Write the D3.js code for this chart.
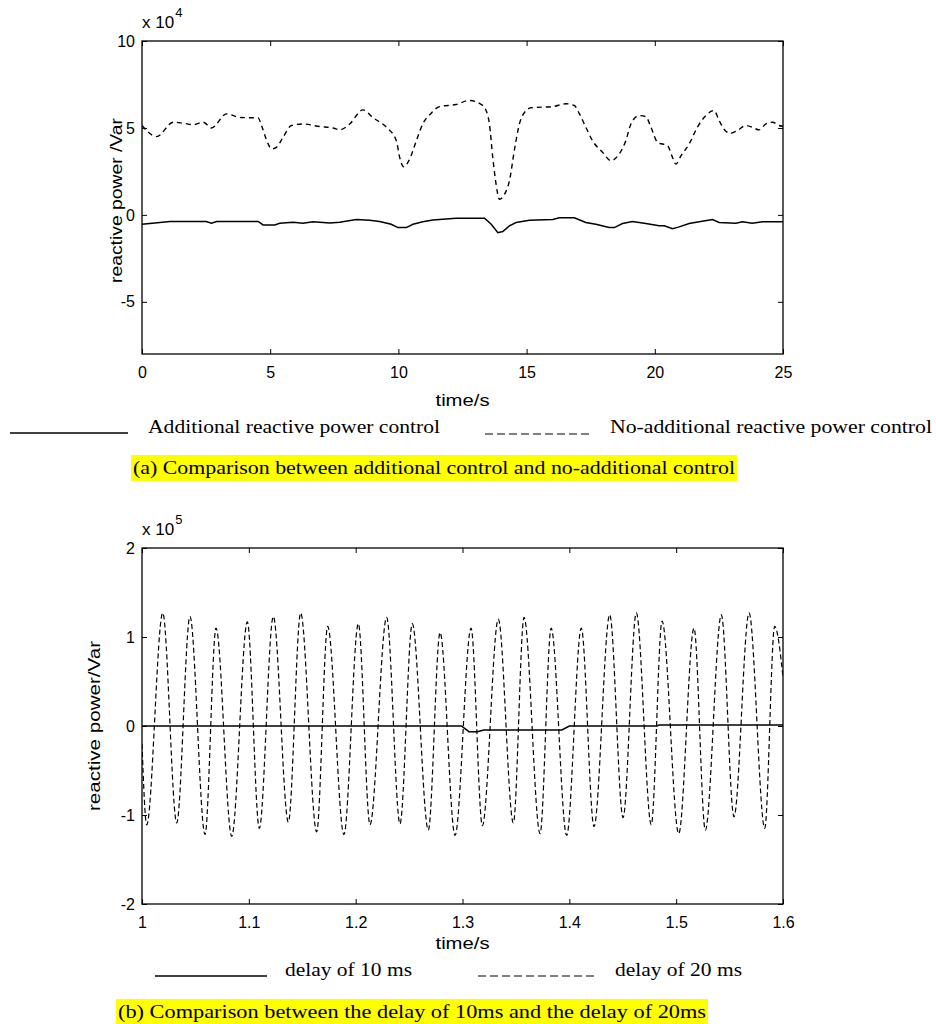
<!DOCTYPE html>
<html>
<head>
<meta charset="utf-8">
<script src="https://cdn.jsdelivr.net/npm/d3@7"></script>
<style>
  html, body { margin: 0; padding: 0; background: #fff; }
  svg { display: block; }
  .tick text { font-family: "Liberation Sans", Arial, sans-serif; font-size: 16px; fill: #000; }
  .tick line { stroke: #000; stroke-width: 1; }
  .serif { font-family: "Liberation Serif", "Times New Roman", serif; fill: #000; }
  .sans { font-family: "Liberation Sans", Arial, sans-serif; fill: #000; }
</style>
</head>
<body>
<svg id="chart" width="936" height="1024"></svg>
<script>
// ---------------- DATA ----------------
// Panel (a): time in s, reactive power in units of 1e4 Var
const aTicksX = [0, 5, 10, 15, 20, 25];
const aTicksY = [-5, 0, 5, 10];
const aNoAddTime = [0, 0.25, 0.57, 1.22, 1.61, 2.0, 2.39, 2.71, 3.3, 3.82, 4.53, 4.66, 4.92, 5.05, 5.24, 5.5, 5.83, 6.28, 6.93, 7.45, 7.71, 8.1, 8.62, 9.0, 9.53, 9.92, 10.05, 10.2, 10.44, 10.7, 10.95, 11.28, 11.6, 12.25, 12.77, 13.23, 13.42, 13.55, 13.68, 13.81, 13.94, 14.14, 14.33, 14.52, 14.72, 14.98, 15.17, 16.02, 16.54, 16.86, 17.06, 17.31, 17.57, 17.96, 18.29, 18.61, 18.87, 19.07, 19.39, 19.65, 19.85, 20.11, 20.5, 20.69, 20.82, 21.02, 21.34, 21.66, 21.99, 22.31, 22.51, 22.77, 22.96, 23.22, 23.55, 23.8, 24.07, 24.33, 24.59, 24.84, 25];
const aNoAddValue = [5.14, 4.75, 4.5, 5.33, 5.27, 5.19, 5.33, 5.0, 5.81, 5.6, 5.58, 5.14, 4.08, 3.79, 3.88, 4.46, 5.14, 5.23, 5.08, 5.0, 4.89, 5.23, 6.04, 5.6, 5.04, 4.27, 3.31, 2.77, 3.21, 4.27, 5.23, 5.85, 6.23, 6.35, 6.58, 6.35, 6.0, 5.23, 3.31, 1.77, 0.9, 1.19, 1.96, 3.69, 5.23, 6.0, 6.16, 6.23, 6.39, 6.29, 5.81, 5.04, 4.27, 3.6, 3.12, 3.5, 4.27, 5.23, 5.71, 5.65, 5.04, 4.17, 3.98, 3.31, 2.92, 3.4, 4.08, 5.04, 5.71, 6.0, 5.42, 4.81, 4.69, 4.85, 5.14, 5.04, 4.89, 5.23, 5.33, 5.14, 5.1];
const aAddTime = [0, 0.3, 0.7, 1.09, 2.5, 2.71, 2.91, 4.53, 4.72, 5.18, 5.37, 5.89, 6.28, 6.67, 7.32, 7.71, 8.36, 8.88, 9.27, 9.72, 9.98, 10.31, 10.57, 10.95, 11.34, 12.25, 13.36, 13.62, 13.88, 14.07, 14.33, 14.59, 15.11, 16.02, 16.28, 16.86, 17.31, 17.7, 18.22, 18.42, 18.74, 19.13, 19.65, 20.17, 20.37, 20.69, 20.95, 21.34, 21.73, 22.25, 22.51, 23.16, 23.42, 23.8, 24.2, 24.84, 25];
const aAddValue = [-0.54, -0.5, -0.44, -0.38, -0.38, -0.48, -0.38, -0.38, -0.58, -0.58, -0.48, -0.42, -0.48, -0.4, -0.46, -0.42, -0.27, -0.31, -0.38, -0.54, -0.73, -0.73, -0.54, -0.4, -0.29, -0.19, -0.19, -0.54, -1.02, -0.96, -0.63, -0.44, -0.31, -0.27, -0.17, -0.17, -0.44, -0.54, -0.73, -0.73, -0.5, -0.38, -0.5, -0.63, -0.63, -0.79, -0.69, -0.5, -0.4, -0.27, -0.44, -0.48, -0.4, -0.48, -0.4, -0.4, -0.4];

// Panel (b): time in s, reactive power in units of 1e5 Var
const bTicksX = [1, 1.1, 1.2, 1.3, 1.4, 1.5, 1.6];
const bTicksY = [-2, -1, 0, 1, 2];
const bDelay20Time = [1.0, 1.0044, 1.0194, 1.0325, 1.0449, 1.059, 1.0693, 1.084, 1.0986, 1.1098, 1.1229, 1.137, 1.1485, 1.1635, 1.1738, 1.189, 1.2025, 1.2134, 1.229, 1.2415, 1.253, 1.268, 1.279, 1.293, 1.308, 1.3186, 1.3335, 1.3476, 1.3576, 1.3726, 1.383, 1.3975, 1.4112, 1.4231, 1.4378, 1.4503, 1.4627, 1.4767, 1.4868, 1.5024, 1.5167, 1.5273, 1.5423, 1.5541, 1.5682, 1.5829, 1.5922, 1.6];
const bDelay20Value = [-0.2, -1.11, 1.27, -1.09, 1.23, -1.22, 1.10, -1.24, 1.17, -1.15, 1.23, -1.08, 1.27, -1.19, 1.12, -1.22, 1.15, -1.11, 1.22, -1.10, 1.15, -1.17, 1.05, -1.23, 1.10, -1.12, 1.20, -1.09, 1.22, -1.21, 1.10, -1.23, 1.10, -1.13, 1.25, -1.03, 1.27, -1.11, 1.18, -1.21, 1.10, -1.17, 1.25, -1.02, 1.27, -1.15, 1.12, 0.55];
const bDelay10Time = [1.0, 1.299, 1.306, 1.314, 1.32, 1.393, 1.40, 1.482, 1.484, 1.6];
const bDelay10Value = [0, 0, -0.064, -0.064, -0.045, -0.045, 0, 0, 0.012, 0.012];

const aLegend = ["Additional reactive power control", "No-additional reactive power control"];
const bLegend = ["delay of 10 ms", "delay of 20 ms"];
const aCaption = "(a) Comparison between additional control and no-additional control";
const bCaption = "(b) Comparison between the delay of 10ms and the delay of 20ms";

// ---------------- DRAW ----------------
const svg = d3.select("#chart");
const plainFmt = d => String(d);

function panel(cfg) {
  const g = svg.append("g");
  const x = d3.scaleLinear().domain(cfg.xDomain).range([cfg.left, cfg.right]);
  const y = d3.scaleLinear().domain(cfg.yDomain).range([cfg.bottom, cfg.top]);
  const clipId = "clip" + cfg.id;
  svg.append("clipPath").attr("id", clipId).append("rect")
    .attr("x", cfg.left).attr("y", cfg.top)
    .attr("width", cfg.right - cfg.left).attr("height", cfg.bottom - cfg.top);

  // axes with inward ticks
  const ax = g.append("g").attr("transform", `translate(0,${cfg.bottom})`)
    .call(d3.axisBottom(x).tickValues(cfg.xTicks).tickSizeInner(-5).tickSizeOuter(0).tickPadding(13).tickFormat(plainFmt));
  ax.select(".domain").remove();
  const axT = g.append("g").attr("transform", `translate(0,${cfg.top})`)
    .call(d3.axisTop(x).tickValues(cfg.xTicks).tickSizeInner(-5).tickSizeOuter(0).tickFormat(""));
  axT.select(".domain").remove();
  const ay = g.append("g").attr("transform", `translate(${cfg.left},0)`)
    .call(d3.axisLeft(y).tickValues(cfg.yTicks).tickSizeInner(-5).tickSizeOuter(0).tickPadding(7).tickFormat(plainFmt));
  ay.select(".domain").remove();
  const ayR = g.append("g").attr("transform", `translate(${cfg.right},0)`)
    .call(d3.axisRight(y).tickValues(cfg.yTicks).tickSizeInner(-5).tickSizeOuter(0).tickFormat(""));
  ayR.select(".domain").remove();
  g.selectAll(".tick text").attr("font-family", null).attr("font-size", null);

  g.append("rect").attr("x", cfg.left).attr("y", cfg.top)
    .attr("width", cfg.right - cfg.left).attr("height", cfg.bottom - cfg.top)
    .attr("fill", "none").attr("stroke", "#000").attr("stroke-width", 1.3);

  // exponent label
  const ex = g.append("text").attr("class", "sans").attr("x", cfg.left).attr("y", cfg.top - 13)
    .attr("font-size", 17);
  ex.append("tspan").text("x 10");
  ex.append("tspan").attr("dx", 1).attr("dy", -11).attr("font-size", 13).text(cfg.exp);

  // y label
  g.append("text").attr("class", "sans")
    .attr("transform", `translate(${cfg.ylabelX},${(cfg.top + cfg.bottom) / 2 + cfg.ylabelShift}) rotate(-90)`)
    .attr("text-anchor", "middle").attr("font-size", 16)
    .attr("textLength", cfg.ylabelLen).attr("lengthAdjust", "spacingAndGlyphs")
    .text(cfg.ylabel);

  // x label
  g.append("text").attr("class", "sans").attr("x", (cfg.left + cfg.right) / 2)
    .attr("y", cfg.xlabelY).attr("text-anchor", "middle").attr("font-size", 16)
    .attr("textLength", 54).attr("lengthAdjust", "spacingAndGlyphs")
    .text("time/s");

  // series
  cfg.series.forEach(s => {
    const pts = s.t.map((t, i) => [t, s.v[i]]);
    g.append("path").datum(pts)
      .attr("clip-path", `url(#${clipId})`)
      .attr("fill", "none").attr("stroke", "#000")
      .attr("stroke-width", s.w)
      .attr("stroke-dasharray", s.dash || null)
      .attr("d", d3.line().x(d => x(d[0])).y(d => y(d[1])).curve(s.curve)(pts));
  });
  return g;
}

panel({
  id: "a", left: 142, right: 783, top: 41, bottom: 354,
  xDomain: [0, 25], yDomain: [-8, 10], xTicks: aTicksX, yTicks: aTicksY, exp: "4",
  ylabel: "reactive power /Var", ylabelX: 122, ylabelShift: 3, ylabelLen: 165, xlabelY: 406,
  series: [
    { t: aNoAddTime, v: aNoAddValue, w: 1.4, dash: "5,4", curve: d3.curveMonotoneX },
    { t: aAddTime, v: aAddValue, w: 1.5, curve: d3.curveLinear }
  ]
});

panel({
  id: "b", left: 142, right: 783, top: 548, bottom: 904,
  xDomain: [1, 1.6], yDomain: [-2, 2], xTicks: bTicksX, yTicks: bTicksY, exp: "5",
  ylabel: "reactive power/Var", ylabelX: 100, ylabelShift: 0, ylabelLen: 170, xlabelY: 949,
  series: [
    { t: bDelay20Time, v: bDelay20Value, w: 1.2, dash: "5,3", curve: d3.curveMonotoneX },
    { t: bDelay10Time, v: bDelay10Value, w: 1.5, curve: d3.curveLinear }
  ]
});

// legends and captions
function legendItem(x1, x2, y, dashed, label, tx, tw, ty) {
  svg.append("line").attr("x1", x1).attr("x2", x2).attr("y1", y).attr("y2", y)
    .attr("stroke", dashed ? "#555" : "#000").attr("stroke-width", 1.3)
    .attr("stroke-dasharray", dashed ? "8,4" : null);
  svg.append("text").attr("class", "serif").attr("x", tx).attr("y", ty)
    .attr("font-size", 19).attr("textLength", tw).attr("lengthAdjust", "spacingAndGlyphs")
    .text(label);
}
function caption(text, x, w, y, boxTop, boxH) {
  svg.append("rect").attr("x", x - 2).attr("y", boxTop).attr("width", w + 4).attr("height", boxH)
    .attr("fill", "#ffff00");
  svg.append("text").attr("class", "serif").attr("x", x).attr("y", y)
    .attr("font-size", 19).attr("textLength", w).attr("lengthAdjust", "spacingAndGlyphs")
    .text(text);
}

legendItem(10, 128, 433, false, aLegend[0], 148, 292, 433);
legendItem(485, 593, 434, true, aLegend[1], 610, 322, 433);
caption(aCaption, 133, 602, 474, 455, 26);

legendItem(155, 267, 976, false, bLegend[0], 285, 127, 976);
legendItem(478, 598, 976, true, bLegend[1], 615, 127, 976);
caption(bCaption, 118, 588, 1018, 999, 25);
</script>
</body>
</html>
